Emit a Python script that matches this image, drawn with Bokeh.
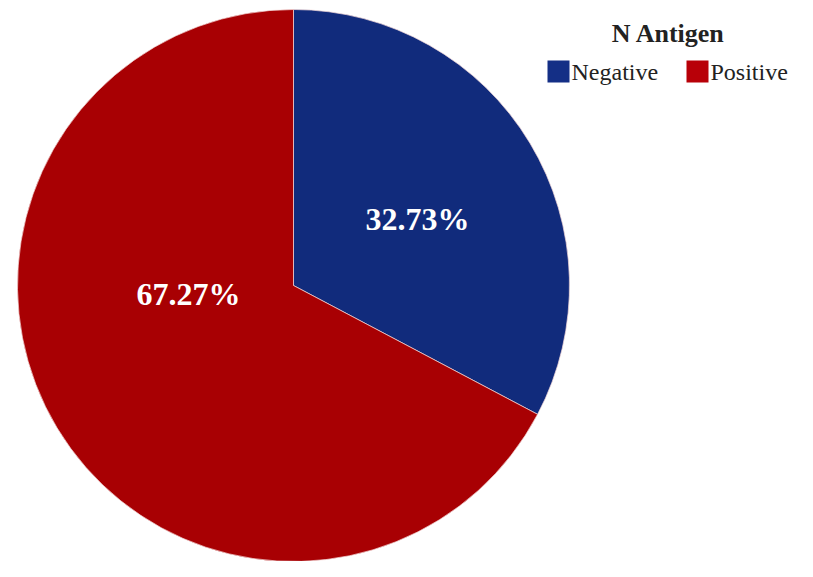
import math
from bokeh.plotting import figure
from bokeh.models import Range1d, ColumnDataSource
from bokeh.core.properties import value
from bokeh.embed import file_html
from bokeh.resources import INLINE

# ---- data ----
categories = ["Negative", "Positive"]
percentages = [32.73, 67.27]
colors = ["#112B7C", "#A80003"]
legend_colors = ["#142F86", "#B80008"]
legend_title = "N Antigen"
pct_labels = [f"{v:.2f}%" for v in percentages]

# ---- layout (pixels) ----
W, H = 797, 561
cx, cy, R = 293, 276, 276
label_offsets = [(124, 67), (-105, -8)]   # label position relative to centre
font = "Liberation Serif"

p = figure(width=W, height=H, output_backend="svg", toolbar_location=None,
           x_range=Range1d(0, W), y_range=Range1d(0, H), min_border=0)
p.axis.visible = False
p.grid.visible = False
p.outline_line_color = None
p.background_fill_color = "white"
p.border_fill_color = "white"

# wedges: start at top (90 deg) and go clockwise
total = sum(percentages)
starts, ends = [], []
cur = math.pi / 2
for v in percentages:
    sweep = 2 * math.pi * v / total
    starts.append(cur - sweep)
    ends.append(cur)
    cur -= sweep

src = ColumnDataSource(dict(x=[cx] * len(categories), y=[cy] * len(categories),
                            start=starts, end=ends, color=colors, cat=categories))
p.wedge(x="x", y="y", radius=R, start_angle="start", end_angle="end",
        fill_color="color", line_color="#F4D8D8", line_width=1, line_alpha=0.7,
        source=src)

# percentage labels
lsrc = ColumnDataSource(dict(x=[cx + dx for dx, dy in label_offsets],
                             y=[cy + dy for dx, dy in label_offsets],
                             t=pct_labels))
p.text(x="x", y="y", text="t", source=lsrc, text_color="white",
       text_font=value(font), text_font_style="bold", text_font_size="32px",
       text_align="center", text_baseline="middle")

# legend (manual)
title_x, title_y = 668, 528
sq_x = [558, 697]
sq_y = 490
sq = 22
p.text(x=[title_x], y=[title_y], text=[legend_title], text_color="#222222",
       text_font=value(font), text_font_style="bold", text_font_size="26px",
       text_align="center", text_baseline="middle")
p.rect(x=sq_x, y=[sq_y] * 2, width=sq, height=sq, fill_color=legend_colors,
       line_color=None)
p.text(x=[x + sq / 2 + 2 for x in sq_x], y=[sq_y] * 2, text=categories,
       text_color="#222222", text_font=value(font), text_font_size="24px",
       text_align="left", text_baseline="middle")

open("out.html", "w").write(file_html(p, INLINE))
